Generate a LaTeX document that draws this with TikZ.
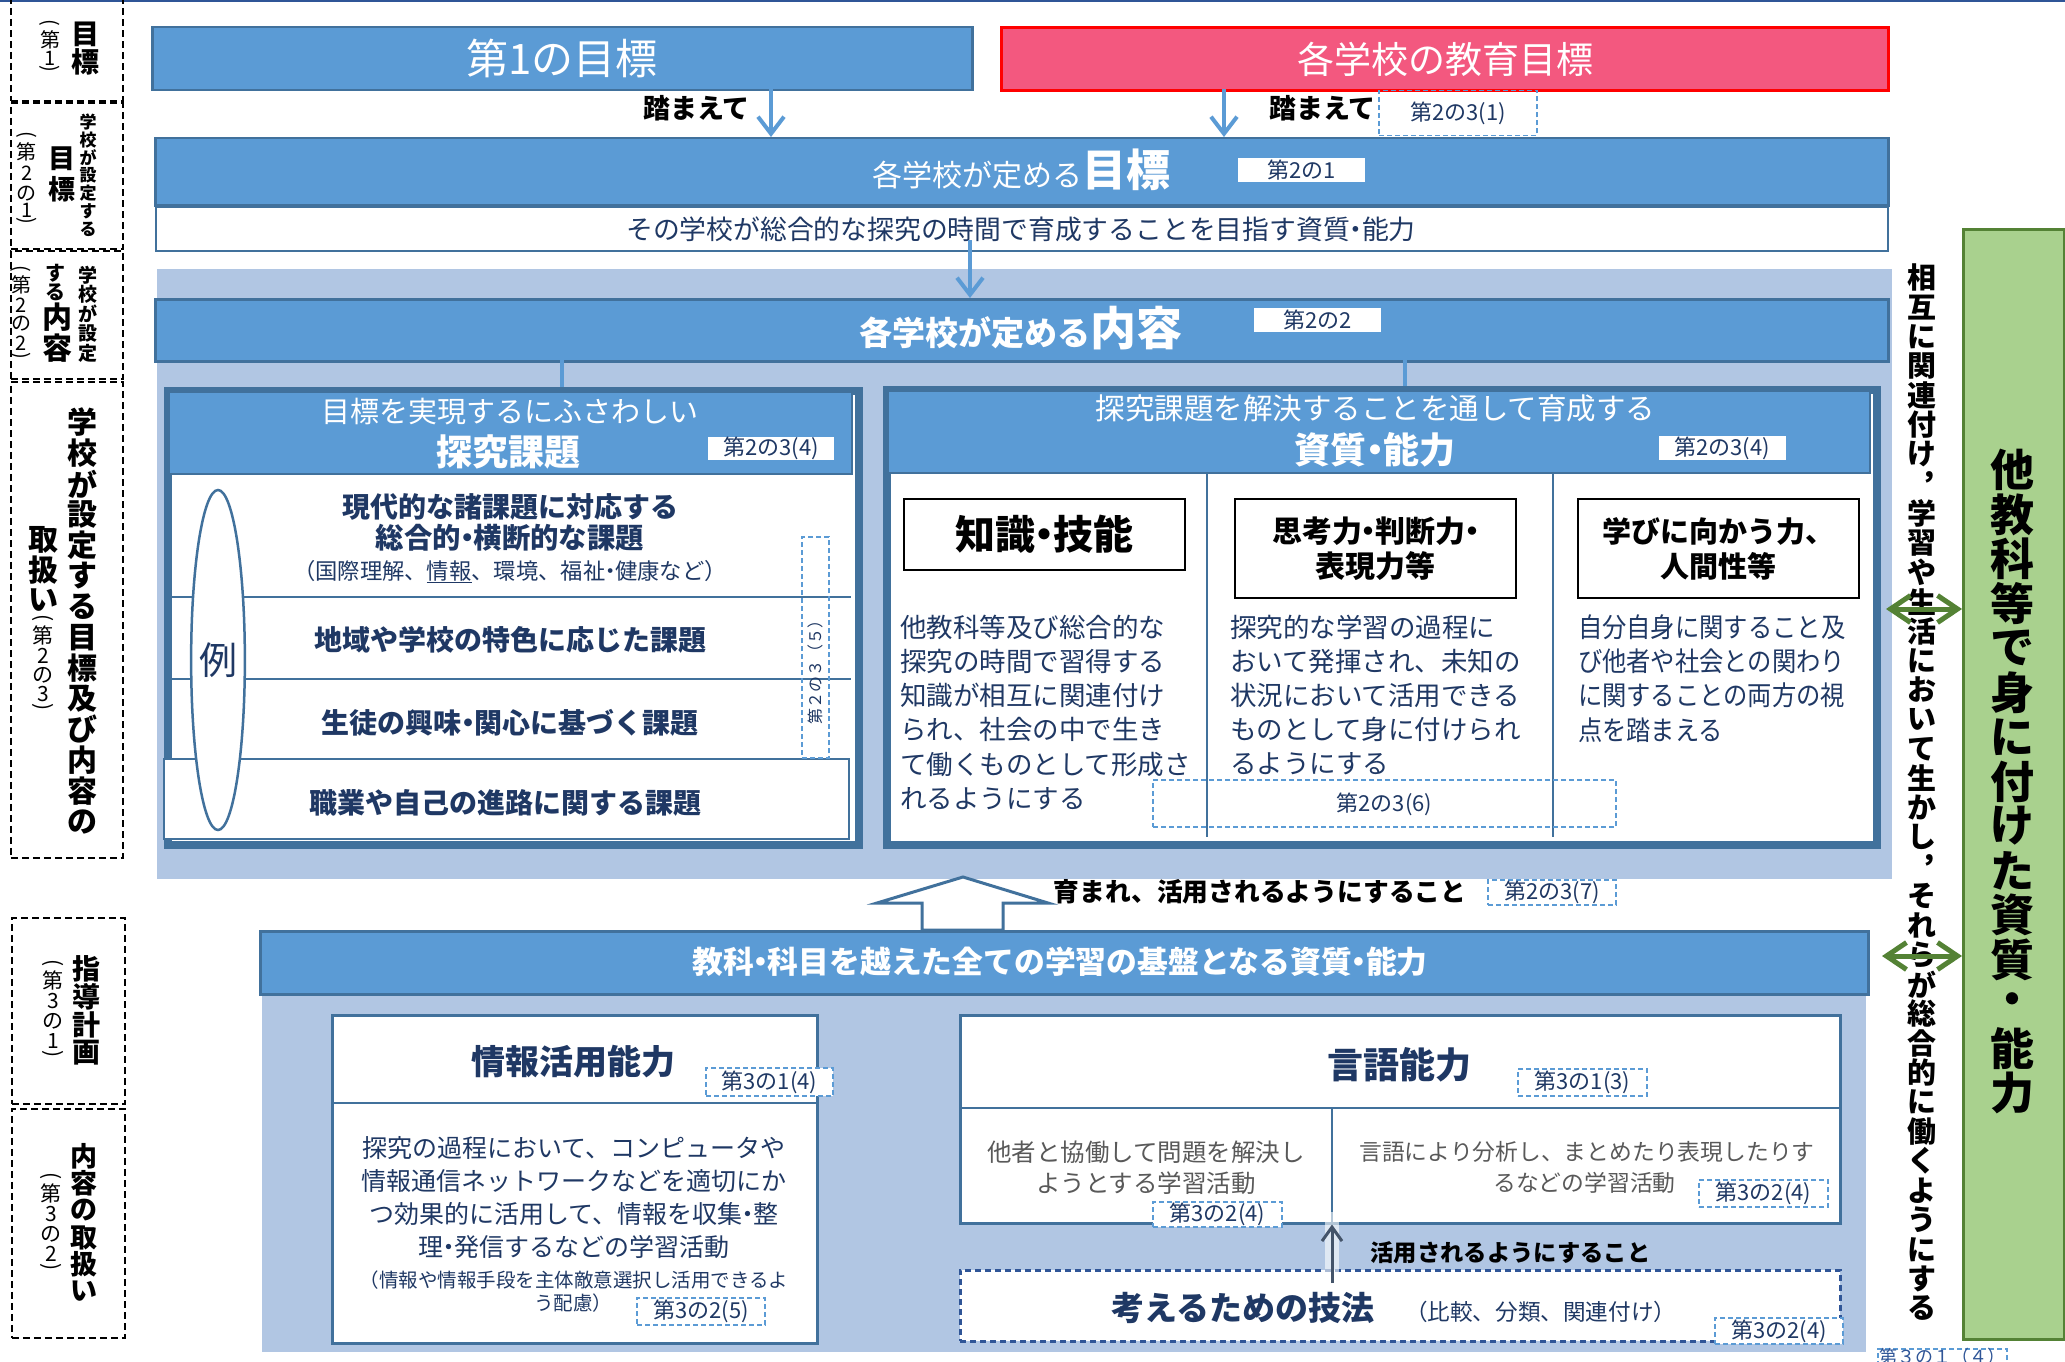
\documentclass[tikz,border=0pt]{standalone}
\usepackage{fontspec}
\usepackage{graphicx}
\setmainfont{Noto Sans CJK JP}
\newfontfamily\jpc{Noto Sans CJK JP}[FakeStretch=0.9]
\usetikzlibrary{arrows.meta,shapes.geometric}
\definecolor{cblue}{HTML}{5B9BD5}
\definecolor{cdark}{HTML}{41719C}
\definecolor{cdarkb}{HTML}{2F5597}
\definecolor{clight}{HTML}{B1C6E3}
\definecolor{cnavy}{HTML}{1F3864}
\definecolor{cpink}{HTML}{F3587F}
\definecolor{cred}{HTML}{FF0000}
\definecolor{cgreen}{HTML}{A9D18E}
\definecolor{cgreendk}{HTML}{548235}
\definecolor{cgray}{HTML}{595959}
\definecolor{carr}{HTML}{44546A}
\newcommand\fs[1]{\fontsize{#1}{#1}\selectfont}
\newcommand\ulx[1]{\setbox0\hbox{#1}\rlap{\rule[-0.16em]{\wd0}{0.07em}}\box0}
\newcommand\nd{\makebox[0.45em]{・}}
\newcommand\vlp{\rotatebox[origin=c]{-90}{(}}
\newcommand\vrp{\rotatebox[origin=c]{-90}{)}}
\makeatletter
\def\vt@end{\vt@end}
\def\vp{\vp}
\newcommand\vt[2]{\vbox{\offinterlineskip\def\vt@p{#1}\vt@loop#2\vt@end}}
\def\vt@loop#1{%
  \ifx#1\vt@end\let\vt@next\relax
  \else\ifx#1\vp\let\vt@next\vt@setp
  \else\vt@cell{#1}\let\vt@next\vt@loop\fi\fi
  \vt@next}
\def\vt@setp#1{\def\vt@p{#1}\vt@loop}
\def\vt@cell#1{\vbox to \vt@p{\vss\hbox to 0pt{\hss#1\hss}\vss}}
\makeatother
\newcommand\rbox[6]{\node[#1, minimum width={#5-#3}, minimum height={#6-#4}, anchor=north west] (#2) at (#3,#4) {};}
\newcommand\lines[7]{\foreach \lineT [count=\ii from 0] in {#7}{\node[tx,#1,anchor=#2] (#6\ii) at (#3,{#4+\ii*#5}) {\lineT};}}
\tikzset{
  tx/.style={inner sep=0pt, outer sep=0pt},
  ldash/.style={draw=black, dash pattern=on 7pt off 4pt, line width=1.8, inner sep=0pt},
  bar/.style={draw=cdark, line width=2.5, fill=cblue, inner sep=0pt},
  pbox/.style={draw=cred, line width=3, fill=cpink, inner sep=0pt},
  wbox/.style={draw=cdark, line width=2.5, fill=white, inner sep=0pt},
  ebox/.style={draw=cdark, line width=2, fill=white, inner sep=0pt},
  bgl/.style={fill=clight, draw=none, inner sep=0pt},
  frame/.style={draw=cdark, line width=8, fill=white, inner sep=0pt},
  hdr/.style={draw=cdark, line width=1.5, fill=cblue, inner sep=0pt},
  rowline/.style={draw=cdark, line width=2.5},
  row4/.style={draw=cdark, line width=2, fill=white, inner sep=0pt},
  tbox/.style={draw=black, line width=2.5, fill=white, inner sep=0pt, text=black},
  dbox/.style={draw=cdarkb, dash pattern=on 6pt off 4pt, line width=2.5, fill=white, inner sep=0pt},
  gbox/.style={draw=cgreendk, line width=2.5, fill=cgreen, inner sep=0pt},
  lbl/.style={draw=cblue, dash pattern=on 5pt off 3pt, line width=1.8, fill=white, text=cnavy, font=\fs{22}, inner sep=0pt},
  lblw/.style={fill=white, text=cnavy, font=\fs{22}, inner sep=0pt},
  barrow/.style={draw=cblue, line width=4, -{Straight Barb[length=17pt,width=26pt]}},
  uarrow/.style={draw=carr, line width=3, -{Straight Barb[length=14pt,width=20pt]}},
  garrow/.style={draw=cgreendk, line width=5, {Straight Barb[length=20pt,width=27pt]}-{Straight Barb[length=20pt,width=27pt]}},
  tick/.style={draw=cblue, line width=4},
  harrow/.style={fill=white, draw=cdark, line width=3, line join=miter},
}
\begin{document}
\begin{tikzpicture}[x=1pt,y=-1pt]
\useasboundingbox (0,0) rectangle (2065,1362);
\clip (0,0) rectangle (2065,1362);
\fill[white] (0,0) rectangle (2065,1362);
\draw[cdarkb, line width=2] (0,1) -- (2065,1);
% left labels
\rbox{ldash}{lb1}{10}{-5}{122}{100}
\rbox{ldash}{lb2}{10}{102}{122}{248}
\rbox{ldash}{lb3}{10}{250}{122}{378}
\rbox{ldash}{lb4}{10}{381}{122}{857}
\rbox{ldash}{lb5}{11}{917}{124}{1103}
\rbox{ldash}{lb6}{11}{1108}{124}{1337}
\node[tx, font=\fs{28}\bfseries] (v1a) at (85,48) {\vt{28pt}{目標}};
\node[tx, font=\fs{20}] (v1b) at (50,47) {\vt{9pt}{\vlp\vp{22pt}第\vp{15pt}1\vp{9pt}\vrp}};
\node[tx, font=\fs{17}\bfseries] (v2a) at (88,175.5) {\vt{17.9pt}{学校が設定する}};
\node[tx, font=\fs{27}\bfseries] (v2b) at (62,174) {\vt{30pt}{目標}};
\node[tx, font=\fs{20}] (v2c) at (27,179.5) {\vt{9pt}{\vlp\vp{22pt}第\vp{21pt}2\vp{19pt}の\vp{15pt}1\vp{9pt}\vrp}};
\node[tx, font=\fs{19}\bfseries] (v3a) at (88,314) {\vt{19.6pt}{学校が設定}};
\node[tx, font=\fs{20}\bfseries] (v3b) at (56,282.5) {\vt{19.5pt}{する}};
\node[tx, font=\fs{30}\bfseries] (v3c) at (57,332.5) {\vt{30.5pt}{内容}};
\node[tx, font=\fs{20}] (v3d) at (21,313.5) {\vt{9pt}{\vlp\vp{21pt}第\vp{19pt}2\vp{19pt}の\vp{19pt}2\vp{9pt}\vrp}};
\node[tx, font=\fs{30}\bfseries] (v4a) at (82,622) {\vt{30.7pt}{学校が設定する目標及び内容の}};
\node[tx, font=\fs{30}\bfseries] (v4b) at (43,570) {\vt{30pt}{取扱い}};
\node[tx, font=\fs{21}] (v4c) at (43,664) {\vt{9pt}{\vlp\vp{22pt}第\vp{19pt}2\vp{20pt}の\vp{19pt}3\vp{9pt}\vrp}};
\node[tx, font=\fs{28}\bfseries] (v5a) at (86,1011) {\vt{28pt}{指導計画}};
\node[tx, font=\fs{21}] (v5b) at (53,1010) {\vt{9pt}{\vlp\vp{22pt}第\vp{20pt}3\vp{20pt}の\vp{20pt}1\vp{9pt}\vrp}};
\node[tx, font=\fs{27}\bfseries] (v6a) at (84,1224) {\vt{27pt}{内容の取扱い}};
\node[tx, font=\fs{21}] (v6b) at (51,1223) {\vt{9pt}{\vlp\vp{22pt}第\vp{20pt}3\vp{20pt}の\vp{20pt}2\vp{9pt}\vrp}};
% top boxes
\rbox{bar}{boxA}{151}{26}{971}{89}
\node[tx, font=\fs{42}, text=white] (tA) at (boxA.center) {第1の目標};
\rbox{pbox}{boxB}{1000}{26}{1887}{89}
\node[tx, font=\fs{37}, text=white] (tB) at (boxB.center) {各学校の教育目標};
% bar D
\rbox{bar}{barD}{154}{137}{1887}{204}
\node[tx, anchor=base, text=white] (tD) at (1021,186) {\fs{30}各学校が定める\fs{44}\bfseries 目標};
\node[lblw, minimum width=127, minimum height=24] (L2) at (1301.5,170) {第2の1};
\rbox{ebox}{boxE}{155}{206}{1887}{250}
\node[tx, font=\fs{26.8}, text=cnavy] (tE) at (1021,229) {その学校が総合的な探究の時間で育成することを目指す資質\nd 能力};
\coordinate (a1) at (771,89);
\coordinate (a2) at (1224,89);
\draw[barrow] (a1) -- (a1 |- barD.north);
\draw[barrow] (a2) -- (a2 |- barD.north);
\node[tx, font=\fs{27}\bfseries] (f1) at (696.5,108) {踏まえて};
\node[tx, font=\fs{27}\bfseries] (f2) at (1322.5,108) {踏まえて};
\node[lbl, fill=none, minimum width=158, minimum height=45] (L1) at (1458,113) {第2の3(1)};
% bg upper
\rbox{bgl}{bgF}{157}{269}{1892}{879}
\rbox{bar}{barH}{154}{298}{1887}{360}
\node[tx, anchor=base, text=white, font=\bfseries] (tH) at (1021,345.5) {\fs{33}各学校が定める\fs{46}内容};
\node[lblw, minimum width=127, minimum height=24] (L3) at (1317.5,320) {第2の2};
\coordinate (g1) at (970,240);
\draw[barrow] (g1) -- (g1 |- barH.north);
% left panel
\rbox{frame}{lpF}{164}{387}{855}{841}
\rbox{hdr}{lpH}{168}{391}{851}{473}
\node[tx, font=\fs{29}, text=white] (lt1) at (509.5,412) {目標を実現するにふさわしい};
\node[tx, font=\fs{36}\bfseries, text=white] (lt2) at (508,452) {探究課題};
\node[lblw, minimum width=126, minimum height=23] (L4) at (771,448.5) {第2の3(4)};
\draw[rowline] (168,597) -- (851,597);
\draw[rowline] (168,679) -- (851,679);
\rbox{row4}{lr4}{163}{758}{848}{838}
\node[ellipse, draw=cdark, line width=2.5, fill=white, minimum width=52, minimum height=340, inner sep=0pt, text=cnavy, font=\fs{38}] (ex) at (218,660) {例};
\node[tx, font=\fs{28}\bfseries, text=cnavy] (r1a) at (510,507) {現代的な諸課題に対応する};
\node[tx, font=\fs{28.4}\bfseries, text=cnavy] (r1b) at (510,538) {総合的\nd 横断的な課題};
\node[tx, font=\fs{22.3}, text=cnavy] (r1c) at (510,572) {（国際理解、\ulx{情報}、環境、福祉\nd 健康など）};
\node[tx, font=\fs{28}\bfseries, text=cnavy] (r2) at (510,640) {地域や学校の特色に応じた課題};
\node[tx, font=\fs{28}\bfseries, text=cnavy] (r3) at (510,723) {生徒の興味\nd 関心に基づく課題};
\node[tx, font=\fs{28}\bfseries, text=cnavy] (r4) at (505,803) {職業や自己の進路に関する課題};
\node[lbl, fill=none, minimum width=27, minimum height=221] (L6) at (815.5,647.5) {};
\node[tx, rotate=90, font=\fs{16}, text=cnavy] (L6t) at (815,668) {第２の３（５）};
% right panel
\rbox{frame}{rpF}{883}{386}{1873}{841}
\rbox{hdr}{rpH}{887}{390}{1869}{472}
\node[tx, font=\fs{29.5}, text=white] (rt1) at (1375.5,408) {探究課題を解決することを通して育成する};
\node[tx, font=\fs{36}\bfseries, text=white] (rt2) at (1375,450) {資質\nd 能力};
\node[lblw, minimum width=127, minimum height=24] (L5) at (1722,448) {第2の3(4)};
\draw[rowline, line width=2] (1207,472) -- (1207,837);
\draw[rowline, line width=2] (1553,472) -- (1553,837);
\node[tbox, minimum width=281, minimum height=71, font=\fs{40}\bfseries] (k1) at (1044.5,534.5) {知識\nd 技能};
\node[tbox, minimum width=281, minimum height=99, font={\fontsize{30}{35}\selectfont\bfseries}, align=center] (k2) at (1375.5,548.5) {思考力\nd 判断力\nd\\表現力等};
\node[tbox, minimum width=281, minimum height=99, font={\fontsize{29}{35}\selectfont\bfseries}, align=center] (k3) at (1718.5,548.5) {学びに向かう力、\\人間性等};
\lines{font=\fs{26.5},text=cnavy}{west}{900}{627}{34.3}{c1-}{他教科等及び総合的な,探究の時間で習得する,知識が相互に関連付け,られ、社会の中で生き,て働くものとして形成さ,れるようにする}
\lines{font=\fs{26.5},text=cnavy}{west}{1230}{627}{34.3}{c2-}{探究的な学習の過程に,おいて発揮され、未知の,状況において活用できる,ものとして身に付けられ,るようにする}
\lines{font={\jpc\fs{27}},text=cnavy}{west}{1578}{627}{34.3}{c3-}{自分自身に関すること及,び他者や社会との関わり,に関することの両方の視,点を踏まえる}
\node[lbl, fill=none, minimum width=463, minimum height=47] (L7) at (1384.5,803.5) {};
\node[tx, font=\fs{22}, text=cnavy] (L7t) at (1384.5,804) {第2の3(6)};
\coordinate (tk1) at (562,360);
\coordinate (tk2) at (1405,360);
\draw[tick] (tk1) -- (tk1 |- lpF.north);
\draw[tick] (tk2) -- (tk2 |- rpF.north);
% middle
\rbox{bgl}{bgL}{262}{930}{1866}{1352}
\rbox{bar}{barL}{259}{930}{1867}{993}
\node[tx, font=\fs{30.8}\bfseries, text=white] (tL) at (1060,962) {教科\nd 科目を越えた全ての学習の基盤となる資質\nd 能力};
\draw[harrow] (963,877) -- (1048,903) -- (1003,903) -- (1003,930) -- (922,930) -- (922,903) -- (877,903) -- cycle;
\node[tx, font=\fs{25.75}\bfseries] (ik) at (1260,892) {育まれ、活用されるようにすること};
\node[lbl, fill=none, minimum width=128, minimum height=25] (L8) at (1552,892.5) {第2の3(7)};
% johou box
\rbox{wbox}{jb}{331}{1014}{816}{1342}
\draw[draw=cdark, line width=2.5] (331,1103) -- (816,1103);
\node[tx, font=\fs{34}\bfseries, text=cnavy] (jt) at (573,1062) {情報活用能力};
\node[lbl, minimum width=127, minimum height=28] (L9) at (769.5,1082) {第3の1(4)};
\lines{font=\fs{25},text=cnavy}{center}{574}{1148}{33}{jl-}{探究の過程において、コンピュータや,情報通信ネットワークなどを適切にか,つ効果的に活用して、情報を収集\nd 整,理\nd 発信するなどの学習活動}
\node[tx, font=\fs{19.5}, text=cnavy] (js1) at (574,1280) {（情報や情報手段を主体敵意選択し活用できるよ};
\node[tx, font=\fs{19.5}, text=cnavy] (js2) at (573,1303) {う配慮）};
\node[lbl, minimum width=128, minimum height=27] (L10) at (701,1311.5) {第3の2(5)};
% gengo box
\rbox{wbox}{gb}{959}{1014}{1839}{1222}
\draw[draw=cdark, line width=2.5] (959,1108) -- (1839,1108);
\draw[draw=cdark, line width=2.5] (1332,1108) -- (1332,1222);
\node[tx, font=\fs{36}\bfseries, text=cnavy] (gt) at (1399.5,1065) {言語能力};
\node[lbl, minimum width=129, minimum height=27] (L11) at (1582.5,1082.5) {第3の1(3)};
\node[tx, font=\fs{24.5}, text=cgray] (gl1) at (1146,1152) {他者と協働して問題を解決し};
\node[tx, font=\fs{24.5}, text=cgray] (gl2) at (1146,1183) {ようとする学習活動};
\node[tx, font=\fs{22.8}, text=cgray] (gr1) at (1587,1152) {言語により分析し、まとめたり表現したりす};
\node[tx, font=\fs{22.8}, text=cgray] (gr2) at (1584.5,1183) {るなどの学習活動};
\node[lbl, minimum width=129, minimum height=25] (L12) at (1217.5,1214.5) {第3の2(4)};
\node[lbl, minimum width=129, minimum height=27] (L13) at (1763.5,1193.5) {第3の2(4)};
% kangaeru box
\rbox{dbox}{kb}{959}{1269}{1839}{1340}
\node[tx, anchor=base west, font=\fs{33}\bfseries, text=cnavy] (kt1) at (1111,1320) {考えるための技法};
\node[tx, anchor=base west, font=\fs{22.6}, text=cnavy] (kt2) at (1405,1320) {（比較、分類、関連付け）};
\node[lbl, minimum width=128, minimum height=26] (L14) at (1779,1331) {第3の2(4)};
\coordinate (u1) at (1332,1283);
\draw[white, line width=14, opacity=0.6] (1332,1290) -- (1332,1212);
\draw[uarrow] (u1) -- (u1 |- gb.south);
\node[tx, font=\fs{23.3}\bfseries] (ak) at (1510.5,1253) {活用されるようにすること};
% right side
\node[tx, font=\fs{29}\bfseries] (rv) at (1922,793) {\vt{29.45pt}{相互に関連付け︐学習や生活において生かし︐それらが総合的に働くようにする}};
\rbox{gbox}{grn}{1962}{228}{2063}{1338}
\node[tx, font=\fs{44}\bfseries] (gv) at (2012,781.5) {\vt{44.5pt}{他教科等で身に付けた資質・能力}};
\coordinate (ga1) at (1886,609);
\coordinate (ga2) at (1882,956);
\draw[garrow] (ga1) -- (ga1 -| grn.west);
\draw[garrow] (ga2) -- (ga2 -| grn.west);
\node[lbl, fill=none, minimum width=129, minimum height=26] (L15) at (1942.5,1362) {};
\node[tx, font=\fs{18}, text=cdarkb] (L15t) at (1942.5,1357) {第３の１（４）};
\end{tikzpicture}
\end{document}
